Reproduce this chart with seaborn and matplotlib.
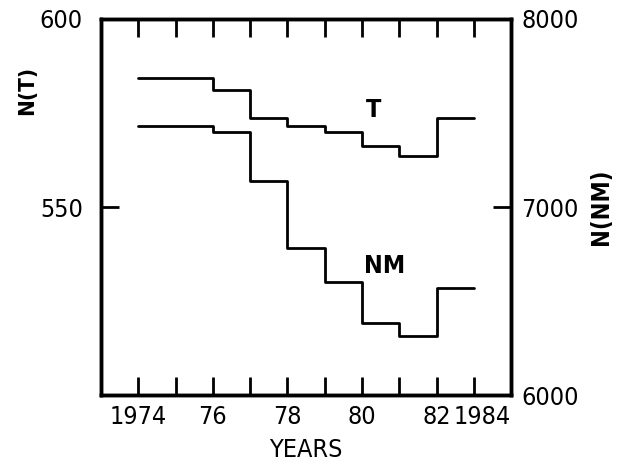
import matplotlib
matplotlib.use("Agg")
import matplotlib.pyplot as plt
import seaborn as sns
import pandas as pd

# Step data, one value per year (last value repeated to close the final step)
years = [1974, 1975, 1976, 1977, 1978, 1979, 1980, 1981, 1982, 1983]
n_t = [584.3, 584.3, 581.1, 573.7, 571.4, 569.8, 566.1, 563.5, 573.7, 573.7]
n_nm = [7428, 7428, 7398, 7140, 6780, 6600, 6383, 6316, 6569, 6569]

x_tick_pos = [1974, 1975, 1976, 1977, 1978, 1979, 1980, 1981, 1982, 1983, 1984]
x_tick_labels = ["1974", "", "76", "", "78", "", "80", "", "82", "", "1984"]
t_ticks = [550, 600]
nm_ticks = [6000, 7000, 8000]

df = pd.DataFrame({"year": years, "T": n_t, "NM": n_nm})

sns.set_style("ticks")
plt.rcParams["font.family"] = ["DejaVu Sans"]
plt.rcParams["font.stretch"] = "condensed"
for k in ["text.color", "axes.labelcolor", "xtick.color", "ytick.color", "axes.edgecolor"]:
    plt.rcParams[k] = "black"

fig = plt.figure(figsize=(6.19, 4.71), dpi=100)
ax = fig.add_axes([0.163, 0.161, 0.663, 0.799])
ax2 = ax.twinx()

sns.lineplot(data=df, x="year", y="T", ax=ax, color="black", linewidth=2.0,
             drawstyle="steps-post")
sns.lineplot(data=df, x="year", y="NM", ax=ax2, color="black", linewidth=2.0,
             drawstyle="steps-post")

ax.set_xlim(1973, 1984)
ax.set_ylim(500, 600)
ax2.set_ylim(6000, 8000)

# x ticks inward on top and bottom
ax.set_xticks(x_tick_pos)
ax.set_xticklabels(x_tick_labels, fontsize=18)
ax.tick_params(axis="x", direction="in", length=13, width=2, top=True, pad=7)
ax.get_xticklabels()[-1].set_horizontalalignment("right")

ax.set_yticks(t_ticks)
ax.set_yticklabels([str(v) for v in t_ticks], fontsize=18)
ax.tick_params(axis="y", direction="in", length=13, width=2, pad=13)

ax2.set_yticks(nm_ticks)
ax2.set_yticklabels([str(v) for v in nm_ticks], fontsize=18)
ax2.tick_params(axis="y", direction="in", length=13, width=2, pad=7)

for a in (ax, ax2):
    for s in a.spines.values():
        s.set_visible(True)
        s.set_linewidth(2.5)
        s.set_color("black")

ax.set_xlabel("YEARS", fontsize=18)
ax.xaxis.set_label_coords(0.5, -0.115)
ax.set_ylabel("N(T)", fontsize=16, fontweight="bold")
ax.yaxis.set_label_coords(-0.155, 0.81)
ax2.set_ylabel("N(NM)", fontsize=17, fontweight="bold")
ax2.yaxis.set_label_coords(1.19, 0.5)

ax.text(1980.3, 575.8, "T", fontsize=18, fontweight="bold", ha="center", va="center")
ax2.text(1980.6, 6686, "NM", fontsize=18, fontweight="bold", ha="center", va="center")

fig.savefig("out.png", dpi=100)
